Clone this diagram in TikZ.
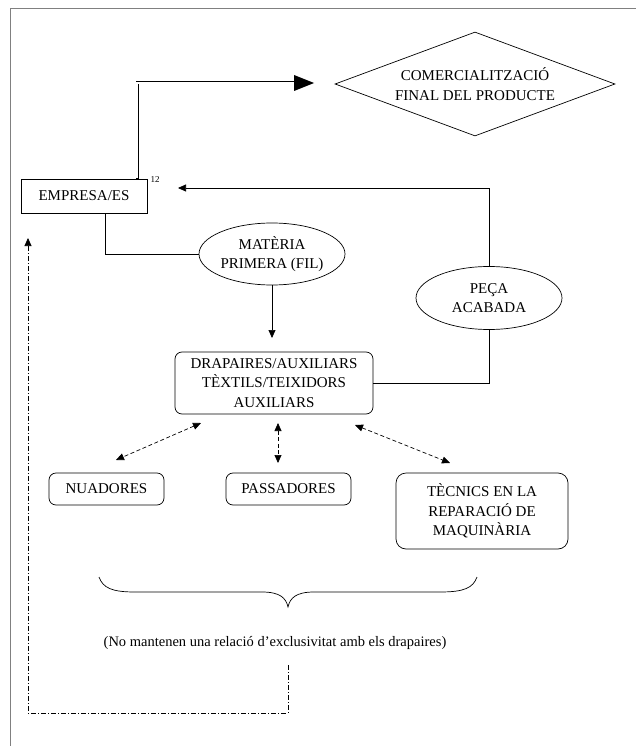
\documentclass[tikz,border=0pt]{standalone}
\usepackage{fontspec}
\setmainfont{Liberation Serif}
\usetikzlibrary{shapes.geometric,arrows.meta,calc}
\begin{document}
\begin{tikzpicture}[x=1pt,y=1pt, line width=0.7pt,
  every node/.style={font=\fontsize{15}{19.5}\selectfont, align=center, inner sep=0pt},
  box/.style={draw, rectangle},
  rbox/.style={draw, rectangle, rounded corners=7pt},
  oval/.style={draw, ellipse},
  tip/.style={-{Triangle[length=8pt,width=7pt]}},
  dtip/.style={{Triangle[length=8pt,width=7pt]}-{Triangle[length=8pt,width=7pt]}, dash pattern=on 4pt off 2.5pt},
  fb/.style={dash pattern=on 5pt off 2pt on 1pt off 2pt}]
\useasboundingbox (0,0) rectangle (636,-746);
% frame
\draw[gray, line width=0.5pt] (10,-746) -- (10,-8) -- (636,-8);

% nodes
\node[draw, diamond, aspect=2.69, minimum width=280pt, minimum height=104pt] (com) at (475,-84) {COMERCIALITZACIÓ\\FINAL DEL PRODUCTE};
\node[box, minimum width=126pt, minimum height=34pt] (emp) at (84,-196) {EMPRESA/ES};
\node[font=\fontsize{9}{10}\selectfont] (sup) at (155,-180) {12};
\node[oval, minimum width=146pt, minimum height=62pt] (mat) at (272,-254) {MATÈRIA\\PRIMERA (FIL)};
\node[oval, minimum width=146pt, minimum height=63pt] (pec) at (489,-298) {PEÇA\\ACABADA};
\node[rbox, minimum width=198pt, minimum height=62pt] (dra) at (274,-383) {DRAPAIRES/AUXILIARS\\TÈXTILS/TEIXIDORS\\AUXILIARS};
\node[rbox, minimum width=115pt, minimum height=32pt] (nua) at (106.5,-489) {NUADORES};
\node[rbox, minimum width=125pt, minimum height=32pt] (pas) at (288.5,-489) {PASSADORES};
\node[rbox, rounded corners=10pt, minimum width=172pt, minimum height=76pt] (tec) at (482,-511) {TÈCNICS EN LA\\REPARACIÓ DE\\MAQUINÀRIA};
\node[font=\fontsize{14.5}{17}\selectfont] (note) at (275,-643) {(No mantenen una relació d'exclusivitat amb els drapaires)};

% double arrow to commercialisation
\coordinate (d0) at ([xshift=53pt]emp.north);
\coordinate (ah) at (294,-83);
\coordinate (ahtip) at (314,-83);
\draw[line width=3pt, line join=miter] (d0) |- (ah);
\draw[white, line width=1.3pt, line join=miter, shorten <=0.8pt] (d0) |- (ah);
\fill (ahtip) -- ([yshift=8pt]ah) -- ([yshift=-8pt]ah) -- cycle;

% finished piece back to company
\coordinate (ein) at (178,-188);
\draw[tip] (pec.north) |- (ein);
% company to raw material
\draw ([xshift=21pt]emp.south) |- (mat.west);
% raw material to drapers
\coordinate (mtip) at (272,-338);
\draw[tip] (mat.south) -- (mtip);
% drapers to finished piece
\draw (dra.east) -| (pec.south);

% dashed two-way arrows
\coordinate (l1) at (201,-423); \coordinate (l2) at (116,-460);
\coordinate (c1) at (278,-423); \coordinate (c2) at (278,-463);
\coordinate (r1) at (355,-425); \coordinate (r2) at (450,-463);
\draw[dtip] (l1) -- (l2);
\draw[dtip] (c1) -- (c2);
\draw[dtip] (r1) -- (r2);

% brace
\draw (99,-577) .. controls (103,-588) and (112,-592) .. (135,-592) -- (262,-592)
  .. controls (280,-592) and (286,-598) .. (288,-607)
  .. controls (290,-598) and (296,-592) .. (314,-592) -- (440,-592)
  .. controls (464,-592) and (473,-588) .. (477,-577);

% feedback dashed line
\coordinate (f1) at (288,-665);
\coordinate (fc) at (288,-713);
\coordinate (f2) at (28,-238);
\draw[fb, tip] (f1) -- (fc) -| (f2);
\end{tikzpicture}
\end{document}
